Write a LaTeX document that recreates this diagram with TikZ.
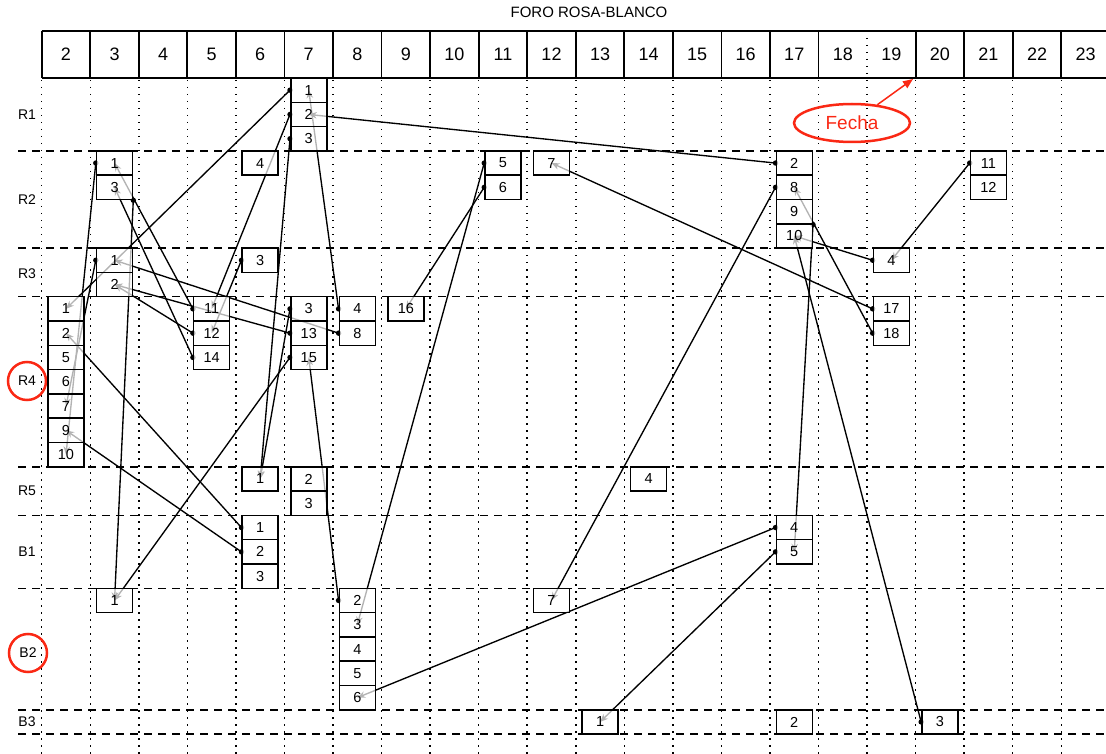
\documentclass[tikz,border=0pt]{standalone}
\usepackage{fontspec}
\setmainfont{Liberation Sans}
\usetikzlibrary{arrows.meta,shapes.geometric}
\pgfdeclarelayer{gridlayer}
\pgfdeclarelayer{linelayer}
\pgfsetlayers{gridlayer,linelayer,main}
\definecolor{fred}{RGB}{250,40,20}
\tikzset{
  cellbox/.style={draw=black, line width=1.5pt, fill=white, fill opacity=0.7, text opacity=1,
    minimum width=36pt, minimum height=24.3pt, inner sep=0pt, font=\fontsize{14.5}{16}\selectfont},
  hdrtext/.style={inner sep=0pt, font=\fontsize{18}{20}\selectfont},
  rowlabel/.style={inner sep=0pt, font=\fontsize{14}{16}\selectfont},
  redring/.style={draw=fred, line width=2.5pt, circle, minimum size=38pt, inner sep=0pt, font=\fontsize{14}{16}\selectfont},
  conn/.style={line width=1.35pt, -{Stealth[length=8pt,width=6.5pt]}},
  hdrline/.style={line width=1.8pt},
  gridv/.style={line width=1.5pt, dash pattern=on 1.5pt off 5.5pt},
  rowline/.style={line width=1.5pt, dash pattern=on 8.3pt off 5.7pt},
}
\newcommand\mycell[3]{\node[cellbox] (c#1k#2) at ({66+(#1-2)*48.55},{78+(#2+0.5)*24.3}) {#3};}
\newcommand\myconn[2]{\draw[conn] (#1) -- (#2.center); \fill (#1) circle (2.7pt);}
\begin{document}
\begin{tikzpicture}[x=1pt,y=-1pt]
\useasboundingbox (0,0) rectangle (1106,754);
% grid
\begin{pgfonlayer}{gridlayer}
\foreach \j in {0,...,22} \draw[gridv] ({41.7+\j*48.55},31) -- ({41.7+\j*48.55},754);
\foreach \k in {3,7,9,16,18,21,26,27} \draw[rowline] (18,{78+\k*24.3}) -- (1106,{78+\k*24.3});
\end{pgfonlayer}
% header
\node[inner sep=0pt, font=\fontsize{15}{17}\selectfont] (title) at (589,12) {FORO ROSA-BLANCO};
\draw[hdrline] (41.7,31) -- (1112,31) (41.7,78) -- (1112,78);
\foreach \j in {0,...,16,18,19,20,21,22} \draw[hdrline] ({41.7+\j*48.55},31) -- ({41.7+\j*48.55},78);
\foreach \c in {2,...,23} \node[hdrtext] (h\c) at ({66+(\c-2)*48.55},54.5) {\c};
% row labels
\node[rowlabel] (lr1) at (27,114.5) {R1};
\node[rowlabel] (lr2) at (27,199.5) {R2};
\node[rowlabel] (lr3) at (27,274) {R3};
\node[redring] (lr4) at (27,381) {R4};
\node[rowlabel] (lr5) at (27,491) {R5};
\node[rowlabel] (lb1) at (27,552) {B1};
\node[redring] (lb2) at (28,653) {B2};
\node[rowlabel] (lb3) at (27,722) {B3};
% Fecha
\node[draw=fred, line width=2.5pt, ellipse, minimum width=116pt, minimum height=38pt, inner sep=0pt,
  text=fred, font=\fontsize{19}{22}\selectfont] (fecha) at (852,123) {Fecha};
\coordinate (fechatip) at (913,79);
\draw[fred, line width=1.5pt, -{Triangle[length=10pt,width=8pt]}] (fecha) -- (fechatip);
% cells
\mycell{7}{0}{1}\mycell{7}{1}{2}\mycell{7}{2}{3}
\mycell{3}{3}{1}\mycell{3}{4}{3}
\mycell{6}{3}{4}
\mycell{11}{3}{5}\mycell{11}{4}{6}
\mycell{12}{3}{7}
\mycell{17}{3}{2}\mycell{17}{4}{8}\mycell{17}{5}{9}\mycell{17}{6}{10}
\mycell{21}{3}{11}\mycell{21}{4}{12}
\mycell{3}{7}{1}\mycell{3}{8}{2}
\mycell{6}{7}{3}
\mycell{19}{7}{4}
\mycell{2}{9}{1}\mycell{2}{10}{2}\mycell{2}{11}{5}\mycell{2}{12}{6}\mycell{2}{13}{7}\mycell{2}{14}{9}\mycell{2}{15}{10}
\mycell{5}{9}{11}\mycell{5}{10}{12}\mycell{5}{11}{14}
\mycell{7}{9}{3}\mycell{7}{10}{13}\mycell{7}{11}{15}
\mycell{8}{9}{4}\mycell{8}{10}{8}
\mycell{9}{9}{16}
\mycell{19}{9}{17}\mycell{19}{10}{18}
\mycell{6}{16}{1}
\mycell{7}{16}{2}\mycell{7}{17}{3}
\mycell{14}{16}{4}
\mycell{6}{18}{1}\mycell{6}{19}{2}\mycell{6}{20}{3}
\mycell{17}{18}{4}\mycell{17}{19}{5}
\mycell{3}{21}{1}
\mycell{8}{21}{2}\mycell{8}{22}{3}\mycell{8}{23}{4}\mycell{8}{24}{5}\mycell{8}{25}{6}
\mycell{12}{21}{7}
\mycell{13}{26}{1}
\mycell{17}{26}{2}
\mycell{20}{26}{3}
% connectors
\begin{pgfonlayer}{linelayer}
\myconn{c17k3.west}{c7k1}
\myconn{c7k0.west}{c2k9}
\myconn{c7k1.west}{c5k9}
\myconn{c7k2.west}{c6k16}
\myconn{c8k9.west}{c7k0}
\myconn{c8k10.west}{c3k7}
\myconn{c7k9.west}{c6k16}
\myconn{c7k10.west}{c3k8}
\myconn{c7k11.west}{c3k21}
\myconn{c5k9.west}{c3k3}
\myconn{c5k10.west}{c3k8}
\myconn{c5k11.west}{c3k4}
\myconn{c6k7.west}{c5k10}
\myconn{c3k3.west}{c2k15}
\myconn{c3k7.west}{c2k13}
\myconn{c3k4.south east}{c3k21}
\myconn{c6k18.west}{c2k10}
\myconn{c6k19.west}{c2k14}
\myconn{c8k21.west}{c7k11}
\myconn{c11k3.west}{c8k22}
\myconn{c11k4.west}{c9k9}
\myconn{c19k9.west}{c12k3}
\myconn{c17k4.west}{c12k21}
\myconn{c19k10.west}{c17k4}
\myconn{c17k5.south east}{c17k19}
\myconn{c19k7.west}{c17k6}
\myconn{c20k26.west}{c17k6}
\myconn{c21k3.west}{c19k7}
\myconn{c17k18.west}{c8k25}
\myconn{c17k19.west}{c13k26}
\end{pgfonlayer}
\end{tikzpicture}
\end{document}
